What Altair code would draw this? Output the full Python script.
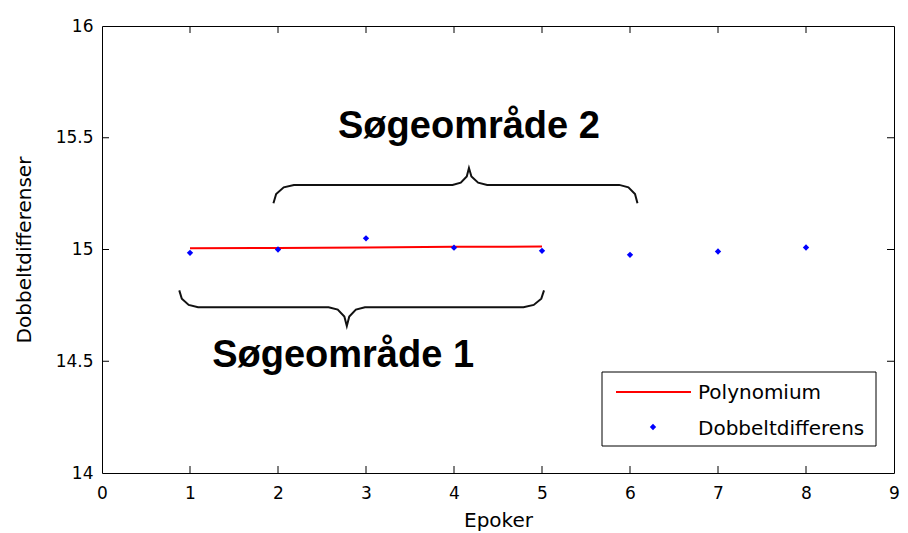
import altair as alt
import pandas as pd

# ---- data ----
epoch = [1, 2, 3, 4, 5, 6, 7, 8]
dobbelt = [14.985, 15.000, 15.050, 15.008, 14.994, 14.976, 14.991, 15.009]

poly_x = [1, 2, 3, 4, 5]
poly_y = [15.006, 15.007, 15.009, 15.012, 15.013]

# curly brace over "Søgeområde 2" (tip up)
brace2_x = [1.948, 1.979, 2.065, 2.181, 3.983, 4.077, 4.145, 4.170,
            4.198, 4.274, 4.377, 5.878, 5.982, 6.057, 6.085]
brace2_y = [15.207, 15.248, 15.278, 15.289, 15.289, 15.299, 15.327, 15.365,
            15.327, 15.299, 15.289, 15.289, 15.278, 15.248, 15.207]

# curly brace over "Søgeområde 1" (tip down)
brace1_x = [0.878, 0.907, 0.985, 1.092, 2.575, 2.679, 2.754, 2.782,
            2.810, 2.885, 2.988, 4.789, 4.906, 4.992, 5.023]
brace1_y = [14.817, 14.780, 14.752, 14.742, 14.742, 14.731, 14.700, 14.658,
            14.700, 14.731, 14.742, 14.742, 14.752, 14.780, 14.817]

label_text = ["Søgeområde 2", "Søgeområde 1"]
label_x = [4.17, 2.74]
label_y = [15.50, 14.475]

x_ticks = [0, 1, 2, 3, 4, 5, 6, 7, 8, 9]
y_ticks = [14, 14.5, 15, 15.5, 16]

legend_names = ["Polynomium", "Dobbeltdifferens"]

W, H = 792, 447
TICK = 7
FONT = "DejaVu Sans"
LX = 500  # legend box left, in plot pixels

xscale = alt.Scale(domain=[0, 9], nice=False, zero=False)
yscale = alt.Scale(domain=[14, 16], nice=False, zero=False)

pts_df = pd.DataFrame({"x": epoch, "y": dobbelt})
poly_df = pd.DataFrame({"x": poly_x, "y": poly_y})
brace_df = pd.concat([
    pd.DataFrame({"x": brace2_x, "y": brace2_y, "b": "2", "o": range(len(brace2_x))}),
    pd.DataFrame({"x": brace1_x, "y": brace1_y, "b": "1", "o": range(len(brace1_x))}),
])
lab_df = pd.DataFrame({"t": label_text, "x": label_x, "y": label_y})
xt_df = pd.DataFrame({"x": x_ticks[1:-1]})
yt_df = pd.DataFrame({"y": y_ticks[1:-1]})
one = pd.DataFrame({"a": [0]})

xaxis = alt.Axis(values=x_ticks, format="~g", title="Epoker", grid=False, ticks=False,
                 domain=False, labelFont=FONT, labelFontSize=17, labelColor="black",
                 labelPadding=12, titleFont=FONT, titleFontSize=20,
                 titleFontWeight="normal", titleColor="black", titlePadding=9,
                 labelFlush=False)
yaxis = alt.Axis(values=y_ticks, format="~g", title="Dobbeltdifferenser", grid=False,
                 ticks=False, domain=False, labelFont=FONT, labelFontSize=17,
                 labelColor="black", labelPadding=9, titleFont=FONT, titleFontSize=20,
                 titleFontWeight="normal", titleColor="black", titlePadding=21,
                 labelFlush=False)

braces = alt.Chart(brace_df).mark_line(color="#111111", strokeWidth=2).encode(
    x=alt.X("x:Q", scale=xscale, axis=xaxis),
    y=alt.Y("y:Q", scale=yscale, axis=yaxis),
    detail="b:N",
    order="o:Q",
)

poly = alt.Chart(poly_df).mark_line(color="#ff0000", strokeWidth=2).encode(
    x=alt.X("x:Q", scale=xscale), y=alt.Y("y:Q", scale=yscale))

points = alt.Chart(pts_df).mark_point(shape="diamond", filled=True, color="#0000ff",
                                      size=40, opacity=1).encode(
    x=alt.X("x:Q", scale=xscale), y=alt.Y("y:Q", scale=yscale))

labels = alt.Chart(lab_df).mark_text(font="Liberation Sans", fontSize=38,
                                     fontWeight="bold", color="black",
                                     baseline="alphabetic", align="center").encode(
    x=alt.X("x:Q", scale=xscale), y=alt.Y("y:Q", scale=yscale), text="t:N")

tick_b = alt.Chart(xt_df).mark_rule(color="black").encode(
    x=alt.X("x:Q", scale=xscale), y=alt.value(H), y2=alt.value(H - TICK))
tick_t = alt.Chart(xt_df).mark_rule(color="black").encode(
    x=alt.X("x:Q", scale=xscale), y=alt.value(0), y2=alt.value(TICK))
tick_l = alt.Chart(yt_df).mark_rule(color="black").encode(
    y=alt.Y("y:Q", scale=yscale), x=alt.value(0), x2=alt.value(TICK))
tick_r = alt.Chart(yt_df).mark_rule(color="black").encode(
    y=alt.Y("y:Q", scale=yscale), x=alt.value(W), x2=alt.value(W - TICK))

# legend box
leg_box = alt.Chart(one).mark_rect(fill="white", stroke="black", strokeWidth=1).encode(
    x=alt.value(LX), x2=alt.value(LX + 274), y=alt.value(346), y2=alt.value(420))
leg_line = alt.Chart(one).mark_rule(color="#ff0000", strokeWidth=2).encode(
    x=alt.value(LX + 14), x2=alt.value(LX + 89), y=alt.value(366))
leg_pt = alt.Chart(one).mark_point(shape="diamond", filled=True, color="#0000ff",
                                   size=40, opacity=1).encode(
    x=alt.value(LX + 51), y=alt.value(401))
leg_t1 = alt.Chart(one).mark_text(font=FONT, fontSize=20, align="left", baseline="middle",
                                  color="black", text=legend_names[0]).encode(
    x=alt.value(LX + 96), y=alt.value(367))
leg_t2 = alt.Chart(one).mark_text(font=FONT, fontSize=20, align="left", baseline="middle",
                                  color="black", text=legend_names[1]).encode(
    x=alt.value(LX + 96), y=alt.value(403))

chart = alt.layer(
    braces, poly, points, labels, tick_b, tick_t, tick_l, tick_r,
    leg_box, leg_line, leg_pt, leg_t1, leg_t2,
).properties(
    width=W, height=H,
    autosize=alt.AutoSizeParams(type="none"),
    padding={"left": 94, "top": 18, "right": 6, "bottom": 58},
    background="white",
).configure_view(stroke="black", strokeWidth=1)

chart.save("out.html", embed_options={"renderer": "svg", "actions": False})
